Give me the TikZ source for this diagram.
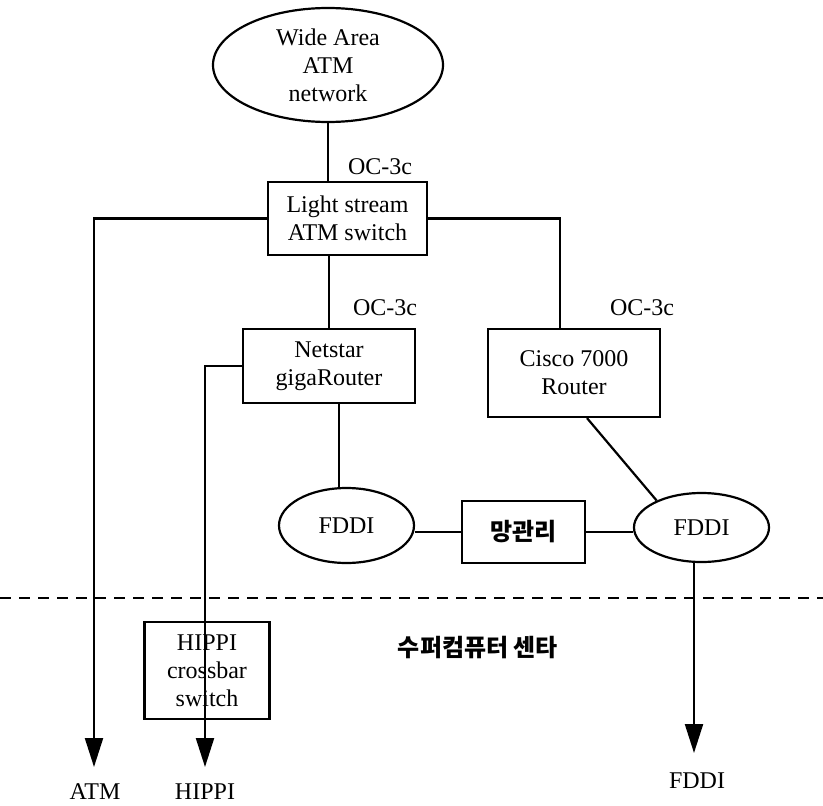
\documentclass[tikz,border=0pt]{standalone}
\usepackage{fontspec}
\setmainfont{Liberation Serif}
\newfontfamily\kor{Noto Sans CJK KR}
\usetikzlibrary{shapes.geometric,arrows.meta}

\begin{document}
\begin{tikzpicture}[x=1pt,y=-1pt,
		every node/.style={font=\fontsize{24}{28}\selectfont},
		box/.style={draw, line width=2.2pt, align=center, inner sep=0pt},
		net/.style={ellipse, draw, line width=2.2pt, align=center, inner sep=0pt},
		link/.style={line width=2.2pt},
		outlink/.style={line width=2.2pt, -{Triangle[length=29pt,width=18pt]}}]
		    \useasboundingbox (0,0) rectangle (823,806);
		    \node[net, minimum width=230pt, minimum height=114pt] (WAN) at (328,65) {Wide Area\\ATM\\network};
		    \node[box, minimum width=159pt, minimum height=73pt] (LSS) at (347.5,218.5) {Light stream\\ATM switch};
	    	\node[box, minimum width=172pt, minimum height=74pt] (NGR) at (329,366) {Netstar\\gigaRouter};
	    	\node[box, minimum width=172pt, minimum height=88pt] (CIS) at (574,373) {Cisco 7000\\Router};
			\node[net, minimum width=135pt, minimum height=75pt] (FDL) at (346.5,525.5) {FDDI};
		    \node[box, minimum width=123pt, minimum height=62pt] (NMS) at (523.5,532) {\kor\bfseries 망관리};
	    	\node[net, minimum width=135pt, minimum height=69pt] (FDR) at (701.5,527.5) {FDDI};
	    	\node[box, minimum width=125pt, minimum height=97pt] (HXS) at (207,670.5) {HIPPI\\crossbar\\switch};
		    \node (OCA) at (380,167) {OC-3c};
		    \node (OCB) at (385,308) {OC-3c};
		    \node (OCC) at (642,308) {OC-3c};
		    \node (SCC) at (478,648) {\kor\bfseries 수퍼컴퓨터 센타};
		    \node (ATM) at (95,792) {ATM};
		    \node (HIP) at (205,792) {HIPPI};
		    \node (FDO) at (697,781) {FDDI};
		    \coordinate (AE) at (94,767);
		    \coordinate (HE) at (205,767);
		    \coordinate (FE) at (694,753);
		    \coordinate (DL) at (0,598);
		    \coordinate (DR) at (823,598);

		   	\draw[link] (WAN.south) -- (WAN.south |- LSS.north);
		   	\draw[link] (NGR.north) -- (NGR.north |- LSS.south);
		   	\draw[link] (LSS.east) -| ([xshift=-14pt]CIS.north);
		   	\draw[outlink] (LSS.west) -| (AE);
		   	\draw[outlink] (NGR.west) -| (HE);
		   	\draw[link] ([xshift=10pt]NGR.south) -- ([xshift=10pt]NGR.south |- FDL.north);
		   	\draw[link] ([xshift=13pt]CIS.south) -- (FDR.149);
		   	\draw[link] (NMS.west) -- (NMS.west -| FDL.east);
	        \draw[link] (NMS.east) -- (NMS.east -| FDR.west);
	        \draw[outlink] (FE |- FDR.south) -- (FE);
	        \draw[line width=2.6pt, dash pattern=on 11pt off 8pt] (DL) -- (DR);
		\end{tikzpicture}
\end{document}
